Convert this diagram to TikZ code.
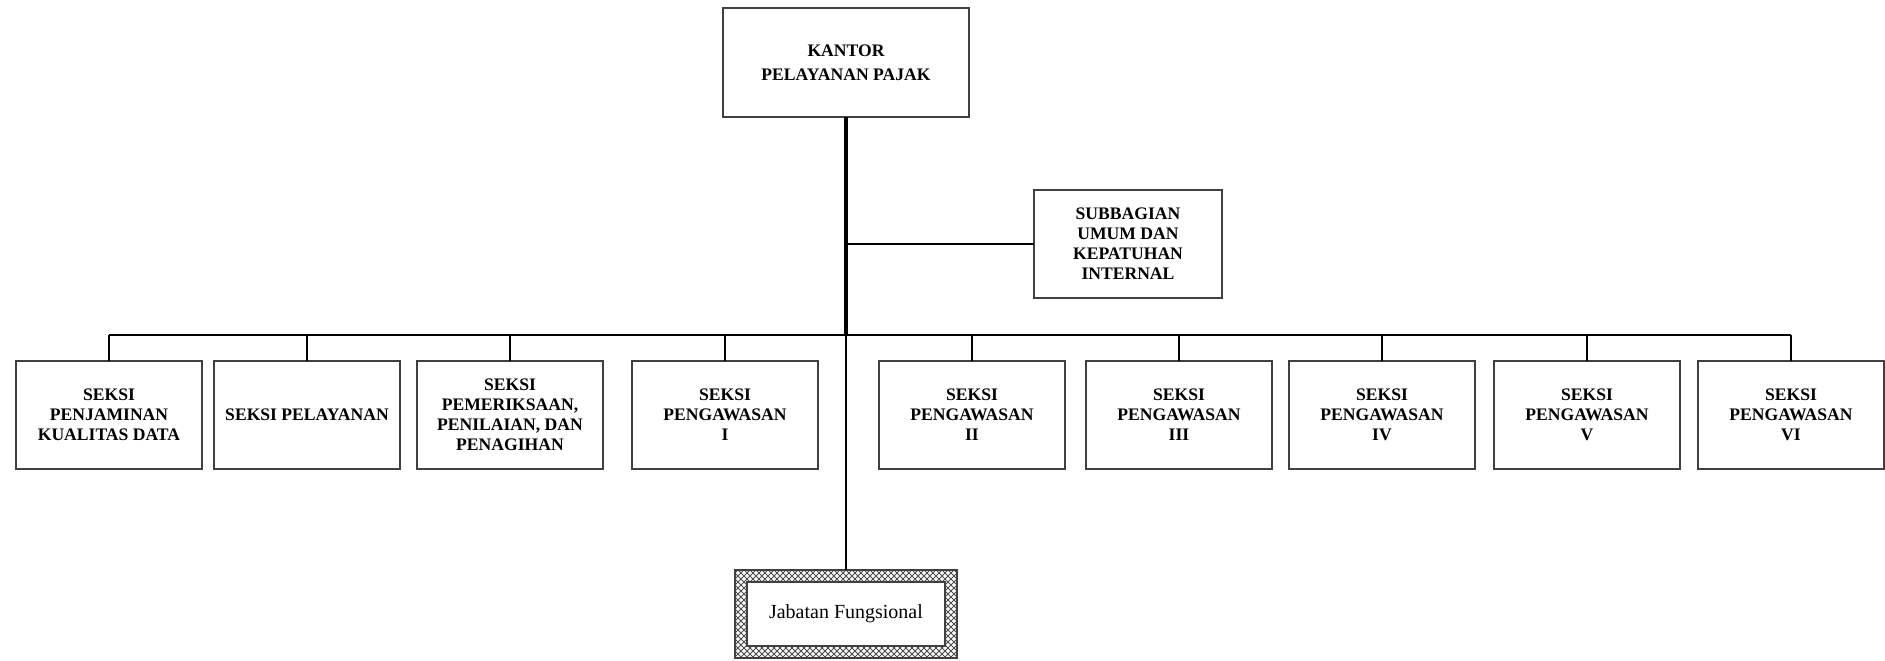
\documentclass[tikz,border=0pt]{standalone}
\usepackage{fontspec}
\setmainfont{Liberation Serif}
\usepackage{tikz}
\usetikzlibrary{positioning,patterns}

\begin{document}
\begin{tikzpicture}
% STYLES
\tikzset{
    unitbox/.style={rectangle, draw=black!75, line width=1pt, align=center,
    minimum width=93pt, minimum height=54pt, inner sep=2pt, outer sep=0pt,
    font=\fontsize{8.8pt}{10pt}\selectfont\bfseries},
    headbox/.style={unitbox, minimum width=123pt, minimum height=54.5pt,
    font=\fontsize{8.8pt}{12pt}\selectfont\bfseries},
    hatchbox/.style={rectangle, draw=black!75, line width=1pt, outer sep=0pt,
    minimum width=111pt, minimum height=44pt,
    preaction={pattern=north east lines, pattern color=black!70},
    pattern=north west lines, pattern color=black!70},
    link/.style={draw=black, line width=1pt},
    trunk/.style={draw=black, line width=2pt}
}
\useasboundingbox (-423pt,31.25pt) rectangle (519.5pt,-298.75pt);

\node [headbox] (kpp) {KANTOR\\PELAYANAN PAJAK};
\node [unitbox, minimum width=94pt, below right=36.5pt and 94pt of kpp.south] (sub) {SUBBAGIAN\\UMUM DAN\\KEPATUHAN\\INTERNAL};
\coordinate [below=109pt of kpp.south] (bus);

% the row of seksi
\node [unitbox, below left=13pt and 322pt of bus] (pkd) {SEKSI\\PENJAMINAN\\KUALITAS DATA};
\node [unitbox, right=6pt of pkd] (pel) {SEKSI PELAYANAN};
\node [unitbox, right=8.5pt of pel] (ppp) {SEKSI\\PEMERIKSAAN,\\PENILAIAN, DAN\\PENAGIHAN};
\node [unitbox, right=14.5pt of ppp] (pw1) {SEKSI\\PENGAWASAN\\I};
\node [unitbox, right=30.5pt of pw1] (pw2) {SEKSI\\PENGAWASAN\\II};
\node [unitbox, right=10.5pt of pw2] (pw3) {SEKSI\\PENGAWASAN\\III};
\node [unitbox, right=8.5pt of pw3] (pw4) {SEKSI\\PENGAWASAN\\IV};
\node [unitbox, right=9.5pt of pw4] (pw5) {SEKSI\\PENGAWASAN\\V};
\node [unitbox, right=9pt of pw5] (pw6) {SEKSI\\PENGAWASAN\\VI};

\node [hatchbox, below=117.5pt of bus] (jfframe) {};
\node [unitbox, fill=white, minimum width=99pt, minimum height=32pt,
  font=\fontsize{10pt}{11pt}\selectfont] (jf) at (jfframe) {Jabatan Fungsional};

% Draw the links between
\draw [link, line width=1.4pt] (bus -| pkd.north) -- (bus -| pw6.north);
\path [link]
   (bus -| pkd.north) edge (pkd.north)
   (bus -| pel.north) edge (pel.north)
   (bus -| ppp.north) edge (ppp.north)
   (bus -| pw1.north) edge (pw1.north)
   (bus -| pw2.north) edge (pw2.north)
   (bus -| pw3.north) edge (pw3.north)
   (bus -| pw4.north) edge (pw4.north)
   (bus -| pw5.north) edge (pw5.north)
   (bus -| pw6.north) edge (pw6.north)
   (sub.west) edge (sub.west -| kpp.south);
\draw [link, line width=0.7pt] (bus) -- (jfframe.north);
\draw [trunk] (kpp.south) -- (bus);
\end{tikzpicture}
\end{document}
